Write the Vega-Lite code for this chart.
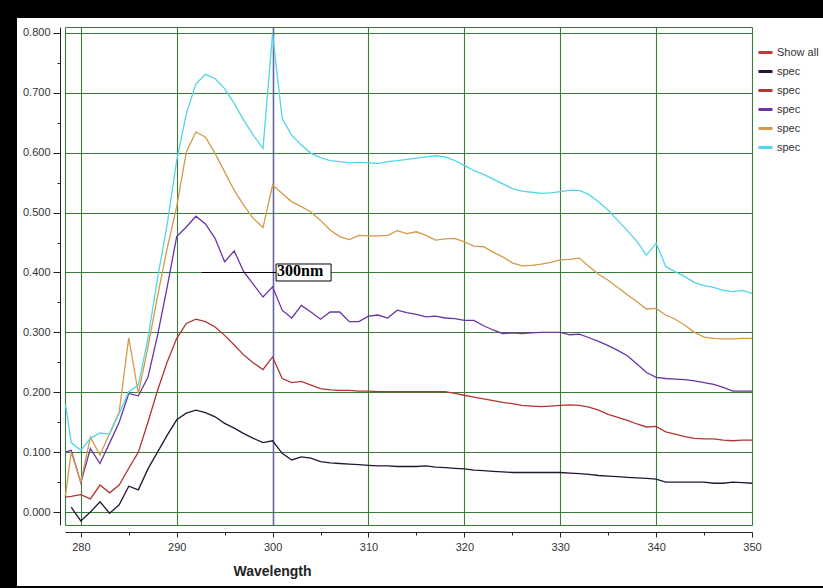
{
  "$schema": "https://vega.github.io/schema/vega-lite/v6.json",
  "width": 806,
  "height": 568,
  "autosize": {"type": "none"},
  "padding": {"left": 17, "top": 18, "right": 0, "bottom": 2},
  "background": "#000000",
  "config": {
    "view": {"fill": "#ffffff", "stroke": null},
    "font": "Liberation Sans"
  },
  "datasets": {
    "spectra": [
      {"wl": 278.4, "s1": null, "s2": 0.025, "s3": 0.100, "s4": 0.028, "s5": 0.180},
      {"wl": 279, "s1": 0.008, "s2": 0.026, "s3": 0.103, "s4": 0.100, "s5": 0.116},
      {"wl": 280, "s1": -0.015, "s2": 0.029, "s3": 0.049, "s4": 0.050, "s5": 0.103},
      {"wl": 281, "s1": 0.000, "s2": 0.022, "s3": 0.106, "s4": 0.125, "s5": 0.123},
      {"wl": 282, "s1": 0.017, "s2": 0.045, "s3": 0.081, "s4": 0.095, "s5": 0.132},
      {"wl": 283, "s1": -0.002, "s2": 0.032, "s3": 0.115, "s4": 0.131, "s5": 0.130},
      {"wl": 284, "s1": 0.012, "s2": 0.045, "s3": 0.150, "s4": 0.167, "s5": 0.165},
      {"wl": 285, "s1": 0.043, "s2": 0.073, "s3": 0.198, "s4": 0.291, "s5": 0.201},
      {"wl": 286, "s1": 0.037, "s2": 0.100, "s3": 0.194, "s4": 0.198, "s5": 0.212},
      {"wl": 287, "s1": 0.072, "s2": 0.150, "s3": 0.225, "s4": 0.275, "s5": 0.290},
      {"wl": 288, "s1": 0.100, "s2": 0.203, "s3": 0.295, "s4": 0.360, "s5": 0.390},
      {"wl": 289, "s1": 0.128, "s2": 0.250, "s3": 0.375, "s4": 0.440, "s5": 0.480},
      {"wl": 290, "s1": 0.154, "s2": 0.290, "s3": 0.460, "s4": 0.510, "s5": 0.587},
      {"wl": 291, "s1": 0.165, "s2": 0.315, "s3": 0.476, "s4": 0.601, "s5": 0.665},
      {"wl": 292, "s1": 0.170, "s2": 0.322, "s3": 0.494, "s4": 0.635, "s5": 0.715},
      {"wl": 293, "s1": 0.166, "s2": 0.318, "s3": 0.481, "s4": 0.626, "s5": 0.731},
      {"wl": 294, "s1": 0.159, "s2": 0.309, "s3": 0.457, "s4": 0.599, "s5": 0.724},
      {"wl": 295, "s1": 0.148, "s2": 0.295, "s3": 0.418, "s4": 0.568, "s5": 0.707},
      {"wl": 296, "s1": 0.140, "s2": 0.279, "s3": 0.436, "s4": 0.537, "s5": 0.682},
      {"wl": 297, "s1": 0.131, "s2": 0.262, "s3": 0.401, "s4": 0.512, "s5": 0.654},
      {"wl": 298, "s1": 0.123, "s2": 0.249, "s3": 0.380, "s4": 0.490, "s5": 0.629},
      {"wl": 299, "s1": 0.116, "s2": 0.238, "s3": 0.359, "s4": 0.475, "s5": 0.607},
      {"wl": 300, "s1": 0.119, "s2": 0.259, "s3": 0.376, "s4": 0.546, "s5": 0.799},
      {"wl": 301, "s1": 0.098, "s2": 0.223, "s3": 0.337, "s4": 0.532, "s5": 0.657},
      {"wl": 302, "s1": 0.087, "s2": 0.216, "s3": 0.324, "s4": 0.518, "s5": 0.629},
      {"wl": 303, "s1": 0.092, "s2": 0.218, "s3": 0.345, "s4": 0.510, "s5": 0.613},
      {"wl": 304, "s1": 0.090, "s2": 0.212, "s3": 0.334, "s4": 0.501, "s5": 0.599},
      {"wl": 305, "s1": 0.084, "s2": 0.206, "s3": 0.322, "s4": 0.487, "s5": 0.592},
      {"wl": 306, "s1": 0.082, "s2": 0.204, "s3": 0.334, "s4": 0.471, "s5": 0.587},
      {"wl": 307, "s1": 0.081, "s2": 0.203, "s3": 0.334, "s4": 0.460, "s5": 0.585},
      {"wl": 308, "s1": 0.080, "s2": 0.203, "s3": 0.318, "s4": 0.455, "s5": 0.583},
      {"wl": 309, "s1": 0.079, "s2": 0.202, "s3": 0.318, "s4": 0.462, "s5": 0.584},
      {"wl": 310, "s1": 0.078, "s2": 0.202, "s3": 0.327, "s4": 0.461, "s5": 0.583},
      {"wl": 311, "s1": 0.077, "s2": 0.201, "s3": 0.329, "s4": 0.461, "s5": 0.582},
      {"wl": 312, "s1": 0.077, "s2": 0.201, "s3": 0.324, "s4": 0.462, "s5": 0.585},
      {"wl": 313, "s1": 0.076, "s2": 0.201, "s3": 0.337, "s4": 0.470, "s5": 0.587},
      {"wl": 314, "s1": 0.076, "s2": 0.201, "s3": 0.333, "s4": 0.465, "s5": 0.589},
      {"wl": 315, "s1": 0.076, "s2": 0.201, "s3": 0.330, "s4": 0.468, "s5": 0.591},
      {"wl": 316, "s1": 0.077, "s2": 0.201, "s3": 0.326, "s4": 0.462, "s5": 0.593},
      {"wl": 317, "s1": 0.075, "s2": 0.201, "s3": 0.327, "s4": 0.454, "s5": 0.595},
      {"wl": 318, "s1": 0.074, "s2": 0.201, "s3": 0.324, "s4": 0.456, "s5": 0.593},
      {"wl": 319, "s1": 0.073, "s2": 0.198, "s3": 0.323, "s4": 0.457, "s5": 0.587},
      {"wl": 320, "s1": 0.072, "s2": 0.195, "s3": 0.320, "s4": 0.451, "s5": 0.579},
      {"wl": 321, "s1": 0.070, "s2": 0.192, "s3": 0.320, "s4": 0.444, "s5": 0.570},
      {"wl": 322, "s1": 0.069, "s2": 0.189, "s3": 0.311, "s4": 0.443, "s5": 0.564},
      {"wl": 323, "s1": 0.068, "s2": 0.186, "s3": 0.304, "s4": 0.434, "s5": 0.556},
      {"wl": 324, "s1": 0.067, "s2": 0.183, "s3": 0.298, "s4": 0.426, "s5": 0.548},
      {"wl": 325, "s1": 0.066, "s2": 0.181, "s3": 0.299, "s4": 0.416, "s5": 0.540},
      {"wl": 326, "s1": 0.066, "s2": 0.178, "s3": 0.298, "s4": 0.411, "s5": 0.536},
      {"wl": 327, "s1": 0.066, "s2": 0.177, "s3": 0.299, "s4": 0.412, "s5": 0.534},
      {"wl": 328, "s1": 0.066, "s2": 0.176, "s3": 0.300, "s4": 0.414, "s5": 0.532},
      {"wl": 329, "s1": 0.066, "s2": 0.177, "s3": 0.300, "s4": 0.417, "s5": 0.533},
      {"wl": 330, "s1": 0.066, "s2": 0.178, "s3": 0.300, "s4": 0.421, "s5": 0.535},
      {"wl": 331, "s1": 0.065, "s2": 0.179, "s3": 0.296, "s4": 0.422, "s5": 0.537},
      {"wl": 332, "s1": 0.064, "s2": 0.178, "s3": 0.297, "s4": 0.424, "s5": 0.537},
      {"wl": 333, "s1": 0.063, "s2": 0.175, "s3": 0.291, "s4": 0.410, "s5": 0.530},
      {"wl": 334, "s1": 0.061, "s2": 0.170, "s3": 0.285, "s4": 0.397, "s5": 0.518},
      {"wl": 335, "s1": 0.060, "s2": 0.163, "s3": 0.278, "s4": 0.387, "s5": 0.504},
      {"wl": 336, "s1": 0.059, "s2": 0.158, "s3": 0.270, "s4": 0.375, "s5": 0.487},
      {"wl": 337, "s1": 0.058, "s2": 0.153, "s3": 0.261, "s4": 0.363, "s5": 0.470},
      {"wl": 338, "s1": 0.057, "s2": 0.147, "s3": 0.247, "s4": 0.351, "s5": 0.452},
      {"wl": 339, "s1": 0.056, "s2": 0.142, "s3": 0.233, "s4": 0.339, "s5": 0.429},
      {"wl": 340, "s1": 0.055, "s2": 0.143, "s3": 0.225, "s4": 0.340, "s5": 0.449},
      {"wl": 341, "s1": 0.050, "s2": 0.134, "s3": 0.223, "s4": 0.329, "s5": 0.410},
      {"wl": 342, "s1": 0.050, "s2": 0.130, "s3": 0.222, "s4": 0.322, "s5": 0.401},
      {"wl": 343, "s1": 0.050, "s2": 0.126, "s3": 0.221, "s4": 0.312, "s5": 0.393},
      {"wl": 344, "s1": 0.050, "s2": 0.123, "s3": 0.219, "s4": 0.300, "s5": 0.383},
      {"wl": 345, "s1": 0.050, "s2": 0.122, "s3": 0.216, "s4": 0.292, "s5": 0.378},
      {"wl": 346, "s1": 0.048, "s2": 0.122, "s3": 0.213, "s4": 0.290, "s5": 0.375},
      {"wl": 347, "s1": 0.048, "s2": 0.120, "s3": 0.208, "s4": 0.289, "s5": 0.370},
      {"wl": 348, "s1": 0.050, "s2": 0.119, "s3": 0.202, "s4": 0.289, "s5": 0.368},
      {"wl": 349, "s1": 0.049, "s2": 0.120, "s3": 0.202, "s4": 0.290, "s5": 0.370},
      {"wl": 350, "s1": 0.048, "s2": 0.120, "s3": 0.202, "s4": 0.290, "s5": 0.365}
    ],
    "cursor": [
      {"wl": 300, "from": 292.6, "level": 0.4, "label": "300nm"}
    ]
  },
  "resolve": {"axis": {"x": "independent"}, "scale": {"x": "shared", "y": "shared"}},
  "layer": [
    {
      "data": {"name": "spectra"},
      "transform": [
        {"fold": ["s1", "s2", "s3", "s4", "s5"], "as": ["series", "absorbance"]},
        {"filter": "isValid(datum.absorbance)"}
      ],
      "mark": {"type": "line", "strokeWidth": 1.3, "interpolate": "linear"},
      "encoding": {
        "x": {
          "field": "wl",
          "type": "quantitative",
          "scale": {"domain": [278.35, 350], "range": [48, 735], "nice": false, "zero": false},
          "axis": {
            "orient": "bottom",
            "values": [280, 285, 290, 295, 300, 305, 310, 315, 320, 325, 330, 335, 340, 345, 350],
            "tickCount": 60,
            "offset": -54,
            "title": "Wavelength",
            "titleFont": "Liberation Sans",
            "titleFontWeight": "bold",
            "titleFontSize": 14,
            "titleColor": "#222222",
            "titleX": 255,
            "titleY": 43,
            "titleAlign": "center",
            "titleBaseline": "alphabetic",
            "format": "d",
            "labelExpr": "datum.value % 10 === 0 ? datum.label : ''",
            "labelFontSize": 11,
            "labelColor": "#333333",
            "labelPadding": 4,
            "labelFlush": false,
            "labelOverlap": false,
            "domainColor": "#222222",
            "tickColor": "#222222",
            "tickSize": {"condition": {"test": "datum.value % 10 === 0", "value": 5}, "value": 3},
            "grid": false
          }
        },
        "y": {
          "field": "absorbance",
          "type": "quantitative",
          "scale": {"domain": [-0.0217, 0.81], "range": [507, 9], "nice": false, "zero": false},
          "axis": {
            "values": [-0.0217, 0, 0.05, 0.1, 0.15, 0.2, 0.25, 0.3, 0.35, 0.4, 0.45, 0.5, 0.55, 0.6, 0.65, 0.7, 0.75, 0.8, 0.81],
            "tickCount": 60,
            "offset": -43,
            "title": null,
            "format": ".3f",
            "labelExpr": "(datum.value * 10 + 100.0005) % 1 < 0.001 ? datum.label : ''",
            "labelFontSize": 11,
            "labelColor": "#333333",
            "labelPadding": 3,
            "labelFlush": false,
            "labelOverlap": false,
            "domainColor": "#222222",
            "tickColor": "#222222",
            "tickSize": {"condition": {"test": "(datum.value * 10 + 100.0005) % 1 < 0.001", "value": 7}, "value": 3},
            "tickOpacity": {"condition": {"test": "datum.value < -0.01 || datum.value > 0.805", "value": 0}, "value": 1},
            "grid": true,
            "gridColor": "#3d7b3d",
            "gridWidth": 1.1,
            "gridOpacity": {"condition": {"test": "(datum.value * 10 + 100.0005) % 1 < 0.001 || datum.value < -0.01 || datum.value > 0.805", "value": 1}, "value": 0}
          }
        },
        "color": {
          "field": "series",
          "type": "nominal",
          "scale": {
            "domain": ["all", "s1", "s2", "s3", "s4", "s5"],
            "range": ["#c43a3a", "#241634", "#b03535", "#6a34a4", "#d39a48", "#52d6e6"]
          },
          "legend": {
            "orient": "none",
            "legendX": 740,
            "legendY": 26,
            "title": null,
            "symbolType": "stroke",
            "symbolStrokeWidth": 3,
            "symbolSize": 196,
            "labelExpr": "datum.label === 'all' ? 'Show all' : 'spec'",
            "labelFontSize": 11,
            "labelColor": "#333333",
            "labelOffset": 3,
            "rowPadding": 4
          }
        }
      }
    },
    {
      "data": {"name": "cursor"},
      "mark": {"type": "rule", "color": "#000000", "strokeWidth": 1, "x2Offset": 4},
      "encoding": {
        "x": {
          "field": "from",
          "type": "quantitative",
          "axis": {
            "orient": "top",
            "title": null,
            "values": [278.35, 280, 290, 300, 310, 320, 330, 340, 350],
            "tickCount": 60,
            "domain": false,
            "ticks": false,
            "labels": false,
            "grid": true,
            "gridColor": {"condition": {"test": "datum.value === 300", "value": "#65659f"}, "value": "#3d7b3d"},
            "gridWidth": {"condition": {"test": "datum.value === 300", "value": 1.6}, "value": 1.1}
          }
        },
        "x2": {"field": "wl"},
        "y": {"field": "level", "type": "quantitative"}
      }
    },
    {
      "data": {"name": "cursor"},
      "mark": {"type": "rect", "fill": "#ffffff", "stroke": "#000000", "strokeWidth": 1, "xOffset": 3.5, "x2Offset": 58.5, "yOffset": -8.5, "y2Offset": 8.5},
      "encoding": {
        "x": {"field": "wl", "type": "quantitative", "axis": null},
        "x2": {"field": "wl"},
        "y": {"field": "level", "type": "quantitative"},
        "y2": {"field": "level"}
      }
    },
    {
      "data": {"name": "cursor"},
      "mark": {"type": "text", "align": "left", "baseline": "alphabetic", "dx": 4.5, "dy": 4, "font": "Liberation Serif", "fontWeight": "bold", "fontSize": 16, "color": "#000000"},
      "encoding": {
        "x": {"field": "wl", "type": "quantitative", "axis": null},
        "y": {"field": "level", "type": "quantitative"},
        "text": {"field": "label"}
      }
    }
  ]
}
